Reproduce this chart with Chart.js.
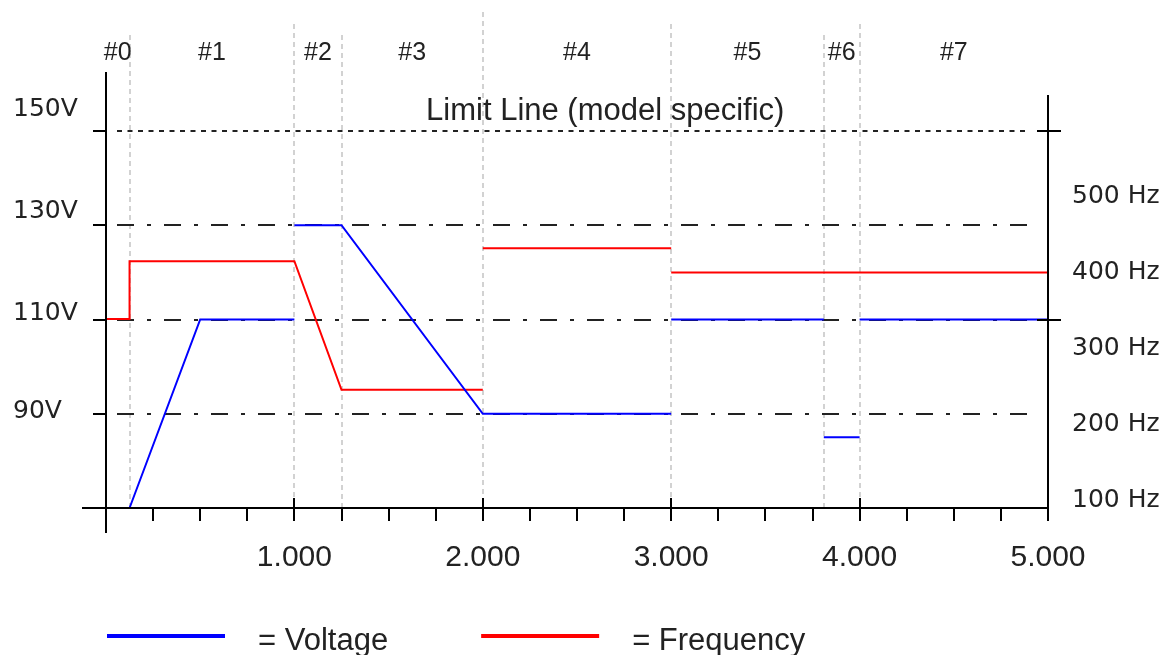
<!DOCTYPE html>
<html>
<head>
<meta charset="utf-8">
<title>Voltage / Frequency profile</title>
<script src="https://cdn.jsdelivr.net/npm/chart.js@4.4.1/dist/chart.umd.min.js"></script>
<style>
  html, body { margin: 0; padding: 0; background: #fff; }
  canvas { display: block; }
</style>
</head>
<body>
<canvas id="profileChart" width="1164" height="655"></canvas>
<script>
// test sequence segments (x = time)
const segmentNames = ['#0', '#1', '#2', '#3', '#4', '#5', '#6', '#7'];
const segmentEdges = [0, 0.125, 1, 1.25, 2, 3, 3.81, 4, 5];

// voltage in V, null breaks the line
const voltTime  = [0.125, 0.5, 1, 1, 1, 1.25, 2, 3, 3, 3, 3.81, 3.81, 3.81, 4, 4, 4, 5];
const voltValue = [70, 110, 110, null, 130, 130, 90, 90, null, 110, 110, null, 85, 85, null, 110, 110];

// frequency in Hz
const freqTime  = [0, 0.125, 0.125, 1, 1.25, 2, 2, 2, 3, 3, 3, 5];
const freqValue = [339, 339, 415, 415, 246, 246, null, 432, 432, null, 400, 400];

// axis ticks / reference levels
const voltTicks = [150, 130, 110, 90];
const hzTicks = [100, 200, 300, 400, 500];
const limitVolt = 150;
const limitText = 'Limit Line (model specific)';
const rightAxisMarks = [150, 110];

const toPoints = (xs, ys) => xs.map((t, i) => ({ x: t, y: ys[i] }));

function line(ctx, x1, y1, x2, y2) {
    ctx.beginPath();
    ctx.moveTo(x1, y1);
    ctx.lineTo(x2, y2);
    ctx.stroke();
}

// dividers, reference lines, axes and legend are drawn by hand
const profileDecor = {
    id: 'profileDecor',
    beforeDatasetsDraw(chart) {
        const { ctx, chartArea: a, scales: { x, y } } = chart;
        ctx.save();

        // segment dividers
        ctx.strokeStyle = '#c4c4c4';
        ctx.lineWidth = 1.5;
        ctx.setLineDash([5, 4]);
        segmentEdges.slice(1, -1).forEach(t => {
            const px = Math.round(x.getPixelForValue(t));
            const top = t === 2 ? 12 : (Number.isInteger(t) ? 24 : 35);
            line(ctx, px, top, px, a.bottom);
        });

        // limit line + dash-dot levels
        ctx.strokeStyle = '#222';
        ctx.lineWidth = 2;
        voltTicks.forEach(v => {
            const py = Math.round(y.getPixelForValue(v));
            ctx.setLineDash(v === limitVolt ? [5, 5.5] : [17, 13, 4, 13]);
            line(ctx, a.left + 11, py, a.right - 18, py);
        });
        ctx.setLineDash([]);

        ctx.fillStyle = '#222';
        ctx.textAlign = 'center';
        ctx.textBaseline = 'alphabetic';
        ctx.font = '31px "Liberation Sans", Arial, sans-serif';
        ctx.fillText(limitText, x.getPixelForValue(2.65), a.top - 11);

        ctx.font = '25px "Liberation Sans", Arial, sans-serif';
        segmentNames.forEach((name, i) => {
            const mid = (segmentEdges[i] + segmentEdges[i + 1]) / 2;
            ctx.fillText(name, x.getPixelForValue(mid), 60);
        });
        ctx.restore();
    },
    afterDatasetsDraw(chart) {
        const { ctx, chartArea: a, scales: { x, y } } = chart;
        ctx.save();
        ctx.strokeStyle = '#000';
        ctx.lineWidth = 2;

        // axis lines
        line(ctx, a.left, a.top - 59, a.left, a.bottom + 25);
        line(ctx, a.left - 24, a.bottom, a.right, a.bottom);
        line(ctx, a.right, a.top - 36, a.right, a.bottom + 13);

        // x tick marks, integers cross the axis
        x.ticks.forEach(t => {
            if (t.value === 0) return;
            const px = Math.round(x.getPixelForValue(t.value));
            const up = Number.isInteger(t.value) ? 10 : 0;
            line(ctx, px, a.bottom - up, px, a.bottom + 13);
        });

        voltTicks.forEach(v => {
            const py = Math.round(y.getPixelForValue(v));
            line(ctx, a.left - 13, py, a.left, py);
        });
        rightAxisMarks.forEach(v => {
            const py = Math.round(y.getPixelForValue(v));
            line(ctx, a.right - 11, py, a.right + 13, py);
        });

        // voltage labels sit a little above their lines
        const nudge = [-22, -14, -6, -2];
        ctx.fillStyle = '#222';
        ctx.font = '25px "DejaVu Sans", sans-serif';
        ctx.textAlign = 'left';
        ctx.textBaseline = 'middle';
        voltTicks.forEach((v, i) => {
            ctx.fillText(v + 'V', y.left, y.getPixelForValue(v) + nudge[i]);
        });

        // legend
        let lx = a.left + 1;
        const ly = 636;
        ctx.font = '31px "Liberation Sans", Arial, sans-serif';
        ctx.textBaseline = 'alphabetic';
        chart.data.datasets.forEach(ds => {
            ctx.strokeStyle = ds.borderColor;
            ctx.lineWidth = 4;
            line(ctx, lx, ly, lx + 118, ly);
            const txt = '= ' + ds.label;
            ctx.fillText(txt, lx + 151, ly + 14);
            lx += 151 + ctx.measureText(txt).width + 93;
        });
        ctx.restore();
    }
};

new Chart(document.getElementById('profileChart'), {
    type: 'line',
    data: {
        datasets: [
            { label: 'Voltage', data: toPoints(voltTime, voltValue), borderColor: '#0000ff', borderWidth: 2, yAxisID: 'y' },
            { label: 'Frequency', data: toPoints(freqTime, freqValue), borderColor: '#ff0000', borderWidth: 2, yAxisID: 'yHz' }
        ]
    },
    options: {
        responsive: false,
        animation: false,
        devicePixelRatio: 1,
        layout: { autoPadding: false, padding: { top: 131, left: 13, right: 0, bottom: 0 } },
        elements: { point: { radius: 0 }, line: { tension: 0 } },
        datasets: { line: { spanGaps: false, clip: false } },
        plugins: { legend: { display: false }, tooltip: { enabled: false } },
        scales: {
            x: {
                type: 'linear', min: 0, max: 5,
                grid: { display: false, drawTicks: false },
                border: { display: false },
                ticks: {
                    stepSize: 0.25, autoSkip: false, maxRotation: 0, padding: 32,
                    color: '#222',
                    font: { family: '"Liberation Sans", Arial, sans-serif', size: 30 },
                    callback: v => (Number.isInteger(v) && v > 0) ? v.toFixed(3) : ''
                },
                afterFit: s => { s.height = 147; }
            },
            y: {
                position: 'left', min: 70, max: 150,
                grid: { display: false, drawTicks: false },
                border: { display: false },
                ticks: { display: false },
                afterBuildTicks: s => { s.ticks = voltTicks.map(v => ({ value: v })); },
                afterFit: s => { s.width = 93; }
            },
            yHz: {
                position: 'right', min: 90.8, max: 586,
                grid: { display: false, drawTicks: false },
                border: { display: false },
                ticks: {
                    padding: 24, color: '#222',
                    font: { family: '"DejaVu Sans", sans-serif', size: 25 },
                    callback: v => v + ' Hz'
                },
                afterBuildTicks: s => { s.ticks = hzTicks.map(v => ({ value: v })); },
                afterFit: s => { s.width = 116; }
            }
        }
    },
    plugins: [profileDecor]
});
</script>
</body>
</html>
